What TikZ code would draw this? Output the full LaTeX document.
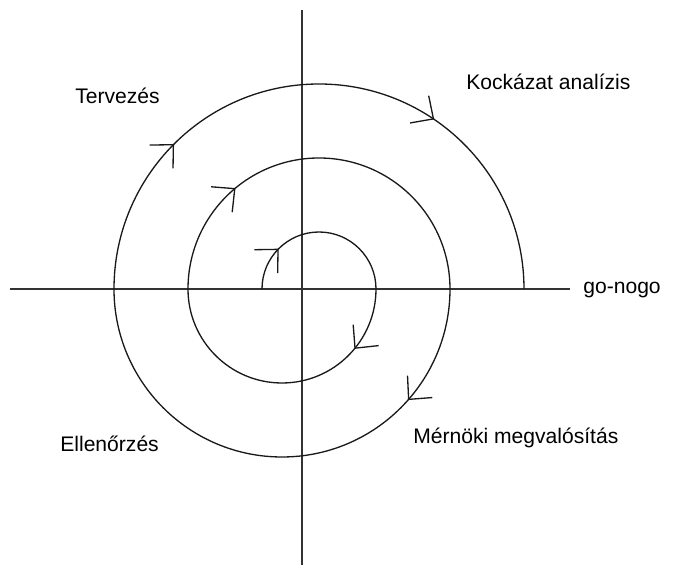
\documentclass[tikz,border=0pt]{standalone}
\usepackage{fontspec}
\setmainfont{Liberation Sans}
\usetikzlibrary{arrows.meta,decorations.markings}

\begin{document}
\begin{tikzpicture}[
  x=0.02cm, y=0.02cm,
  font=\fontsize{12}{14}\selectfont,
  axis/.style={draw=black!80, line width=0.8pt},
  turn/.style={draw=black!90, line width=0.75pt},
  tip/.style={postaction={decorate, decoration={markings,
    mark=at position #1 with {\arrow{Straight Barb[length=3.4mm, width=6.6mm, line width=0.75pt]}}}}},
  phase/.style={anchor=base west, inner sep=0pt}
]
\useasboundingbox (-302,-281) rectangle (378,289);

% the two axes
\coordinate (west) at (-292,0);
\coordinate (east) at (268,0);
\coordinate (north) at (0,279);
\coordinate (south) at (0,-276);
\draw[axis] (west) -- (east);
\draw[axis] (north) -- (south);

% spiral: upper halves round (17,0), lower halves round (-20,0)
\coordinate (s0) at (-40,0);
\draw[turn, tip=0.25] (s0) arc[start angle=180, end angle=0, radius=57] coordinate (s1);
\draw[turn, tip=0.22] (s1) arc[start angle=0, end angle=-180, radius=94] coordinate (s2);
\draw[turn, tip=0.28] (s2) arc[start angle=180, end angle=0, radius=131] coordinate (s3);
\draw[turn, tip=0.23] (s3) arc[start angle=0, end angle=-180, radius=168] coordinate (s4);
\draw[turn, tip=0.25, tip=0.69] (s4) arc[start angle=180, end angle=0, radius=205] coordinate (s5);

\node[phase] (terv) at (-227,185) {Tervezés};
\node[phase] (kock) at (164,199) {Kockázat analízis};
\node[phase] (gono) at (281,-5) {go-nogo};
\node[phase] (ell) at (-242,-163) {Ellenőrzés};
\node[phase] (mern) at (111,-155) {Mérnöki megvalósítás};
\end{tikzpicture}
\end{document}
